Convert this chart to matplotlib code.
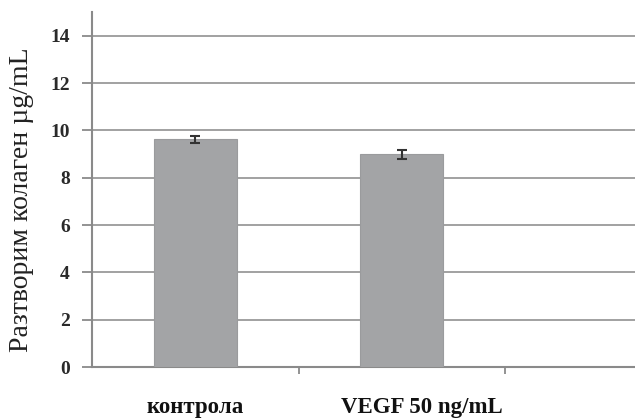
import matplotlib
matplotlib.use("Agg")
import matplotlib.pyplot as plt
from matplotlib.transforms import blended_transform_factory

categories = ["контрола", "VEGF 50 ng/mL"]
values = [9.62, 8.98]
errors = [0.15, 0.18]
yticks = [0, 2, 4, 6, 8, 10, 12, 14]

plt.rcParams['font.family'] = ['Liberation Serif', 'DejaVu Serif']

fig = plt.figure(figsize=(6.35, 4.2), dpi=100)
ax = fig.add_axes([92/635, 1-367/420, 1-92/635, (367-12)/420])

x = list(range(len(categories)))
ax.bar(x, values, width=0.40, color='#a3a4a6', edgecolor='#9a9b9d', linewidth=0.8, zorder=3,
       yerr=errors, error_kw=dict(ecolor='#333333', elinewidth=1.5, capsize=3.5, capthick=1.5, zorder=4))

ax.set_ylim(0, 15)
ax.set_xlim(-0.5, (635-92)/206.5 - 0.5)
ax.set_yticks(yticks)
ax.set_yticklabels([str(t) for t in yticks], fontweight='bold', fontsize=14, color='#2a2a2a')
ax.yaxis.grid(True, color='#9a9a9a', linewidth=1.3, zorder=0)
ax.set_axisbelow(True)

for s in ['top', 'right']:
    ax.spines[s].set_visible(False)
ax.spines['left'].set_color('#8a8a8a')
ax.spines['left'].set_linewidth(1.5)
ax.spines['bottom'].set_color('#8a8a8a')
ax.spines['bottom'].set_linewidth(1.5)
ax.tick_params(axis='y', length=7, width=1.3, color='#8a8a8a', pad=9)
ax.set_xticks([0.5, 1.5])
ax.set_xticklabels([])
ax.tick_params(axis='x', length=5, width=1.3, color='#8a8a8a')

tr = blended_transform_factory(ax.transData, fig.transFigure)
label_x = [0.0, 1.098]
for lx, lab in zip(label_x, categories):
    ax.text(lx, 1-413/420, lab, transform=tr, ha='center', va='baseline',
            fontweight='bold', fontsize=16.5, color='#111111')

fig.text(22/635, 1-200/420, "Разтворим колаген µg/mL", rotation=90, ha='center', va='center',
         fontsize=20, color='#222222')

fig.savefig("out.png", dpi=100)
